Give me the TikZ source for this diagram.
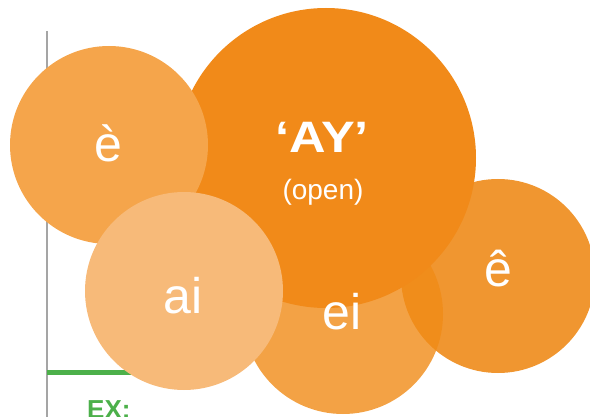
\documentclass[tikz,border=0pt]{standalone}
\usepackage{fontspec}
\setmainfont{Liberation Sans}
\definecolor{cbig}{RGB}{241,138,25}
\definecolor{cegrave}{RGB}{245,165,75}
\definecolor{cai}{RGB}{247,186,121}
\definecolor{cei}{RGB}{240,139,22}
\definecolor{cecirc}{RGB}{240,150,48}
\definecolor{cgreen}{RGB}{76,176,74}
\definecolor{cgray}{RGB}{165,165,165}
\tikzset{
  bubble/.style={circle, inner sep=0pt, draw=none},
  lbl/.style={text=white, anchor=base, inner sep=0pt, font=\fontsize{50}{50}\selectfont},
}
\begin{document}
\begin{tikzpicture}[x=1pt,y=-1pt]
\useasboundingbox (0,0) rectangle (590,417);
% axis lines
\coordinate (axTop) at (47,31);
\coordinate (axBot) at (47,417);
\coordinate (grL) at (47,372);
\coordinate (grR) at (220,372);
\draw[cgray, line width=1.2pt] (axTop) -- (axBot);
\draw[cgreen, line width=5pt] (grL) -- (grR);
% circles
\node[bubble, fill=cecirc, minimum size=194pt] (ecirc) at (498,276) {};
\node[bubble, fill=cei, fill opacity=0.8, minimum size=200pt] (ei) at (343,314) {};
\node[bubble, fill=cbig, minimum size=300pt] (big) at (326,158) {};
\node[bubble, fill=cegrave, minimum size=198pt] (egr) at (109,145) {};
\node[bubble, fill=cai, minimum size=198pt] (ai) at (184,291) {};
% labels
\node[lbl] (tegr) at (108,162) {è};
\node[lbl] (tai) at (183,313) {ai};
\node[lbl] (tei) at (342,330) {ei};
\node[lbl] (tecirc) at (498,287) {ê};
\node[lbl, font=\fontsize{44}{44}\bfseries] (tay) at (322,153) {\scalebox{1.15}[1]{‘AY’}};
\node[lbl, font=\fontsize{28}{28}\selectfont] (topen) at (323,200) {(open)};
\node[anchor=base west, inner sep=0pt, text=cgreen, font=\fontsize{26}{26}\bfseries] (ex) at (87,418) {EX:};
\end{tikzpicture}
\end{document}
